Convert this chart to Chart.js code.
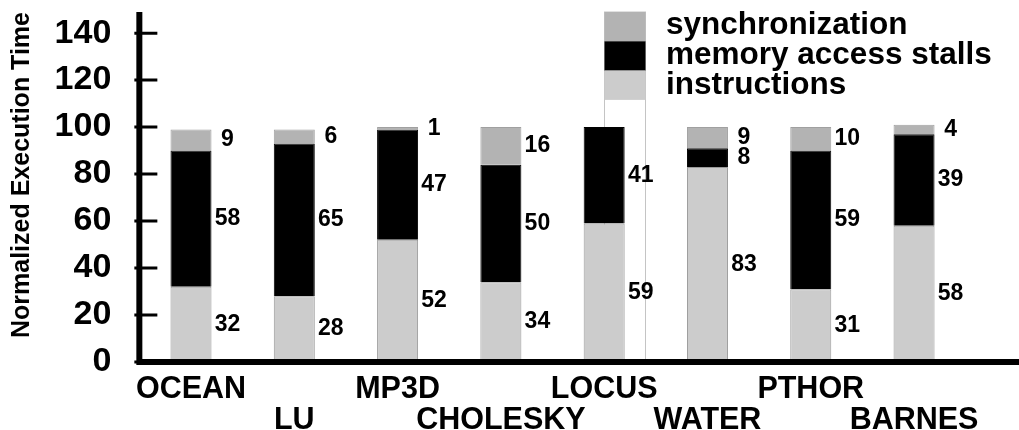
<!DOCTYPE html>
<html>
<head>
<meta charset="utf-8">
<script src="https://cdn.jsdelivr.net/npm/chart.js@4"></script>
<style>
    html, body { margin: 0; padding: 0; background: #fff; }
    #wrap { width: 1019px; height: 430px; position: relative; }
</style>
</head>
<body>
<div id="wrap"><canvas id="myChart"></canvas></div>
<script>
    var categories = ['OCEAN', 'LU', 'MP3D', 'CHOLESKY', 'LOCUS', 'WATER', 'PTHOR', 'BARNES'];
    var instructions = [32, 28, 52, 34, 59, 83, 31, 58];
    var memoryStalls = [58, 65, 47, 50, 41, 8, 59, 39];
    var synchronization = [9, 6, 1, 16, 0, 9, 10, 4];
    var yTicks = [0, 20, 40, 60, 80, 100, 120, 140];
    var seriesNames = ['synchronization', 'memory access stalls', 'instructions'];
    var seriesColors = ['#b3b3b3', '#000000', '#cccccc'];

    Chart.defaults.font.family = "'Liberation Sans', Arial, Helvetica, sans-serif";
    Chart.defaults.color = '#000';

    // thick axes + inward tick marks
    var axisLines = {
        id: 'axisLines',
        afterDatasetsDraw: function(chart) {
            var ctx = chart.ctx, area = chart.chartArea, ys = chart.scales.y;
            ctx.save();
            ctx.strokeStyle = '#000';
            ctx.lineWidth = 6;
            ctx.beginPath();
            ctx.moveTo(area.left, area.top);
            ctx.lineTo(area.left, area.bottom + 3);
            ctx.moveTo(area.left - 3, area.bottom);
            ctx.lineTo(chart.width, area.bottom);
            ctx.stroke();
            ctx.lineWidth = 3;
            ctx.beginPath();
            yTicks.forEach(function(v) {
                var py = ys.getPixelForValue(v);
                ctx.moveTo(area.left - 5, py);
                ctx.lineTo(area.left + 18, py);
            });
            ctx.stroke();
            ctx.restore();
        }
    };

    // legend drawn as a tall outlined box with stacked swatches
    var stackLegend = {
        id: 'stackLegend',
        beforeDatasetsDraw: function(chart) {
            var ctx = chart.ctx, area = chart.chartArea;
            var left = 604.5, w = 41, top = 12, h = 29.3;
            ctx.save();
            ctx.strokeStyle = '#c4c4c4';
            ctx.lineWidth = 1;
            ctx.strokeRect(left, top, w, area.bottom - top);
            ctx.font = "bold 31.5px 'Liberation Sans', Arial, sans-serif";
            ctx.textBaseline = 'alphabetic';
            ctx.textAlign = 'left';
            for (var i = 0; i < seriesNames.length; i++) {
                ctx.fillStyle = seriesColors[i];
                ctx.fillRect(left, top + i * h, w, h);
                ctx.fillStyle = '#000';
                ctx.fillText(seriesNames[i], 666, 34 + i * 30);
            }
            ctx.restore();
        }
    };

    // value labels to the right of each segment
    var valueLabels = {
        id: 'valueLabels',
        afterDatasetsDraw: function(chart) {
            var ctx = chart.ctx;
            ctx.save();
            ctx.font = "bold 23px 'Liberation Sans', Arial, sans-serif";
            ctx.fillStyle = '#000';
            ctx.textAlign = 'center';
            ctx.textBaseline = 'middle';
            chart.data.datasets.forEach(function(ds, di) {
                var meta = chart.getDatasetMeta(di);
                meta.data.forEach(function(bar, i) {
                    var v = ds.data[i];
                    if (!v) return;
                    ctx.fillText(String(v), bar.x + bar.width / 2 + 16, (bar.y + bar.base) / 2);
                });
            });
            ctx.restore();
        }
    };

    var ctx = document.getElementById('myChart').getContext('2d');
    var myChart = new Chart(ctx, {
        type: 'bar',
        data: {
            labels: categories,
            datasets: [{
                label: 'instructions',
                data: instructions,
                backgroundColor: '#cccccc',
                borderColor: '#9a9a9a',
                borderWidth: 1
            }, {
                label: 'memory access stalls',
                data: memoryStalls,
                backgroundColor: '#000000',
                borderColor: '#000000',
                borderWidth: 1
            }, {
                label: 'synchronization',
                data: synchronization,
                backgroundColor: '#b3b3b3',
                borderColor: '#a0a0a0',
                borderWidth: 1
            }]
        },
        options: {
            responsive: true,
            maintainAspectRatio: false,
            animation: false,
            barPercentage: 0.397,
            categoryPercentage: 1,
            layout: {
                padding: { top: 12, right: 53.3, bottom: 0, left: 0 }
            },
            plugins: {
                legend: { display: false },
                tooltip: { enabled: false }
            },
            scales: {
                x: {
                    stacked: true,
                    grid: { display: false },
                    border: { display: false },
                    ticks: {
                        padding: 4,
                        maxRotation: 0,
                        autoSkip: false,
                        font: { size: 30.5, weight: 'bold', lineHeight: 1.02 },
                        callback: function(value, index) {
                            return index % 2 === 0 ? [categories[index], ''] : ['', categories[index]];
                        }
                    },
                    afterFit: function(s) {
                        s.height = 68;
                        s.paddingLeft = 0;
                        s.paddingRight = 0;
                    }
                },
                y: {
                    stacked: true,
                    min: 0,
                    max: 149,
                    grid: { display: false },
                    border: { display: false },
                    afterBuildTicks: function(s) {
                        s.ticks = yTicks.map(function(v) { return { value: v }; });
                    },
                    ticks: {
                        padding: 20,
                        font: { size: 34, weight: 'bold' }
                    },
                    title: {
                        display: true,
                        text: 'Normalized Execution Time',
                        align: 'end',
                        padding: { top: 7, bottom: 0 },
                        font: { size: 25, weight: 'bold' }
                    },
                    afterFit: function(s) {
                        s.width = 139.35;
                        s.paddingTop = 0;
                        s.paddingBottom = 0;
                    }
                }
            }
        },
        plugins: [stackLegend, valueLabels, axisLines]
    });
</script>
</body>
</html>
